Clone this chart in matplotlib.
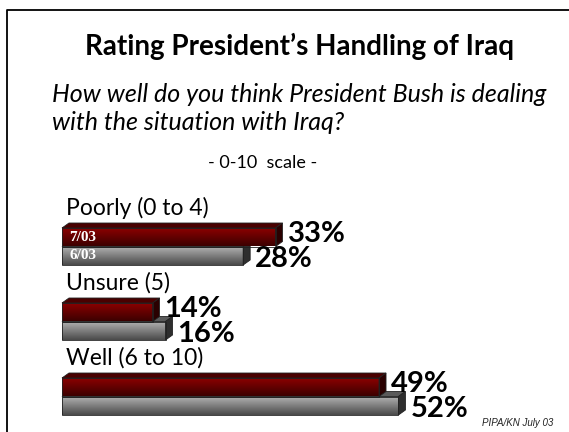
import numpy as np
import matplotlib.pyplot as plt
from matplotlib.patches import Polygon

categories = ["Poorly (0 to 4)", "Unsure (5)", "Well (6 to 10)"]
jul03 = [33, 14, 49]
jun03 = [28, 16, 52]
series_names = ["7/03", "6/03"]

W, H = 569, 432
fig = plt.figure(figsize=(W / 100, H / 100), dpi=100)
fig.patch.set_facecolor("white")

# axes over the whole figure: x in percent, y in pixels from the top
pxper = 6.47
x0 = 62
ax = fig.add_axes([0, 0, 1, 1])
ax.axis("off")

def fx(x):
    return x / W

def fy(y):
    return 1 - y / H

# frame
fig.add_artist(plt.Line2D([fx(7), fx(7), 1], [0, fy(10), fy(10)], color="black", lw=1.3))

fig.text(fx(300), fy(46), "Rating President\u2019s Handling of Iraq", ha="center", va="center",
         fontsize=20, fontweight="bold", family="Lato")
fig.text(fx(52), fy(95), "How well do you think President Bush is dealing", ha="left", va="center",
         fontsize=18, style="italic", family="Lato")
fig.text(fx(52), fy(123), "with the situation with Iraq?", ha="left", va="center",
         fontsize=18, style="italic", family="Lato")
fig.text(fx(263), fy(163), "- 0-10  scale -", ha="center", va="center", fontsize=13, family="Lato")
fig.text(fx(553), fy(423), "PIPA/KN July 03", ha="right", va="center", fontsize=7, style="italic",
         family="Liberation Sans", color="#222222")

group_top = [228, 303, 378]
bar_h = 18.5
dx = 7 / pxper
dy = 5

def grad(c1, c2, n=64):
    c1 = np.array(plt.matplotlib.colors.to_rgb(c1))
    c2 = np.array(plt.matplotlib.colors.to_rgb(c2))
    t = np.linspace(0, 1, n)[:, None]
    return (c1 * (1 - t) + c2 * t)[:, None, :]

red_grad = grad("#900000", "#3c0000")
gray_grad = grad("#b4b4b4", "#4a4a4a")

def bar3d(v, top, g, topc, sidec, z):
    bot = top + bar_h
    ax.imshow(g, extent=(0, v, bot, top), aspect="auto", origin="upper", zorder=z)
    ax.add_patch(Polygon([(0, top), (v, top), (v + dx, top - dy), (dx, top - dy)],
                         closed=True, fc=topc, ec="#222222", lw=0.6, zorder=z))
    ax.add_patch(Polygon([(v, top), (v + dx, top - dy), (v + dx, bot - dy), (v, bot)],
                         closed=True, fc=sidec, ec="#222222", lw=0.6, zorder=z))
    ax.add_patch(Polygon([(0, top), (v, top), (v, bot), (0, bot)], closed=True,
                         fill=False, ec="#222222", lw=0.6, zorder=z + 0.1))

for i, cat in enumerate(categories):
    rt = group_top[i]
    gt = rt + bar_h
    bar3d(jun03[i], gt, gray_grad, "#5a5a5a", "#2e2e2e", 2)
    bar3d(jul03[i], rt, red_grad, "#4a0000", "#2a0000", 3)
    ax.text(4 / pxper, rt - 20, cat, ha="left", va="center", fontsize=16.5, family="Lato")
    ax.text(jul03[i] + dx + 5 / pxper, rt + bar_h / 2 - 3, f"{jul03[i]}%", ha="left", va="center",
            fontsize=21, fontweight="bold", family="Lato", zorder=5)
    ax.text(jun03[i] + dx + 5 / pxper, gt + bar_h / 2 + 3, f"{jun03[i]}%", ha="left", va="center",
            fontsize=21, fontweight="bold", family="Lato", zorder=5)
    if i == 0:
        ax.text(7 / pxper, rt + bar_h / 2, series_names[0], color="white", ha="left", va="center",
                fontsize=11, fontweight="bold", family="Liberation Serif", zorder=6)
        ax.text(7 / pxper, gt + bar_h / 2, series_names[1], color="white", ha="left", va="center",
                fontsize=11, fontweight="bold", family="Liberation Serif", zorder=6)

ax.set_xlim(-x0 / pxper, (W - x0) / pxper)
ax.set_ylim(H, 0)

fig.savefig("out.png", dpi=100, facecolor="white")
